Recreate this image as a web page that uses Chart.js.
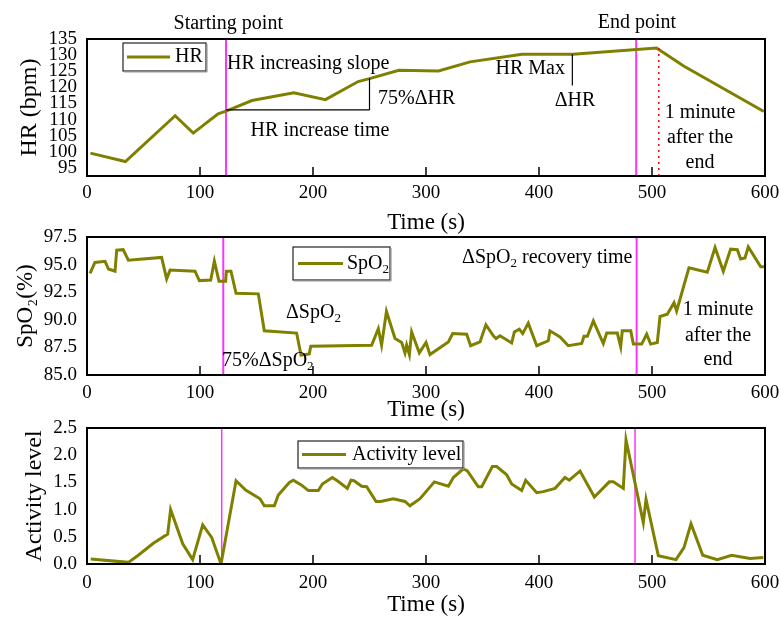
<!DOCTYPE html>
<html>
<head>
<meta charset="utf-8">
<script src="https://cdn.jsdelivr.net/npm/chart.js@4"></script>
<style>
  body { margin: 0; background: #fff; }
  #wrap { position: relative; width: 781px; height: 621px; }
  canvas { position: absolute; left: 0; }
</style>
</head>
<body>
<div id="wrap">
  <canvas id="hrChart" width="781" height="240" style="top:0px"></canvas>
  <canvas id="spo2Chart" width="781" height="197" style="top:228px"></canvas>
  <canvas id="actChart" width="781" height="206" style="top:415px"></canvas>
</div>
<script>
// x axis, shared
const timeTicks = [0, 100, 200, 300, 400, 500, 600];

// heart rate
const hrTime = [3, 34, 78, 94, 116, 123, 146, 183, 211, 240, 250, 276, 311, 339, 385, 430, 504, 528, 599];
const hrValues = [99.6, 97.0, 111.2, 105.8, 111.8, 112.6, 115.9, 118.3, 116.2, 121.8, 122.7, 125.3, 125.1, 127.9, 130.3, 130.3, 132.2, 126.6, 112.5];
const hrTicks = [95, 100, 105, 110, 115, 120, 125, 130, 135];

// SpO2
const spoTime = [2.7, 7, 16, 19, 24.8, 26.3, 32, 36.6, 66, 70.5, 73.5, 95.6, 99.4, 109.5, 112.7, 116.8, 122.7, 123.3, 127.4, 131.9,
  151.6, 156.9, 185.5, 189.4, 196.7, 198, 251.9, 257.8, 260.7, 265, 272.6, 278.5, 281.4, 282.9, 285.3, 287.3, 294.1, 300, 303.5, 319.8,
  323.6, 336, 339.5, 347.8, 353, 359.6, 362, 365.5, 375.8, 378.2, 382.6, 385.6, 390.5, 398, 408.2, 409.7, 418.6, 425.9, 437.8, 439.8,
  442.8, 448.1, 456.9, 459.9, 469.3, 472.3, 473.7, 481.2, 483.5, 490.9, 495.3, 498.8, 504.7, 507.1, 513.5, 519.5, 521.8, 532.7, 548.9, 555.8,
  563.1, 569.6, 575.5, 578.4, 582.3, 585.2, 596.2, 600];
const spoValues = [94.2, 95.2, 95.3, 94.6, 94.4, 96.3, 96.35, 95.4, 95.65, 93.7, 94.5, 94.4, 93.55, 93.6, 95.3, 93.5, 93.5, 94.4, 94.4, 92.4,
  92.35, 89.0, 88.8, 86.8, 86.9, 87.6, 87.7, 89.2, 87.7, 90.75, 88.3, 87.95, 87.0, 87.7, 86.85, 88.9, 87.0, 87.95, 86.85, 88.0,
  88.75, 88.7, 87.65, 88.0, 89.55, 88.55, 88.3, 88.55, 87.9, 88.9, 89.15, 88.75, 89.7, 87.65, 88.1, 89.0, 88.45, 87.65, 87.85, 88.5,
  88.5, 89.9, 87.85, 88.8, 88.8, 87.55, 89.0, 89.0, 87.8, 87.8, 88.7, 87.8, 87.95, 90.3, 90.5, 91.55, 90.8, 94.7, 94.3, 96.55,
  94.4, 96.4, 96.35, 95.5, 95.6, 96.6, 94.8, 94.8];
const spoTicks = [85, 87.5, 90, 92.5, 95, 97.5];

// activity level
const actTime = [3.3, 36.6, 45.4, 58.7, 71.4, 74, 84.7, 93.5, 102.4, 110.3, 118.6, 131.9, 140.4, 153.1, 156.9, 165.8, 169.3, 179.1, 182.6, 189.9,
  195.9, 204.7, 208.3, 217.1, 221.5, 230.4, 233.6, 236.3, 243.1, 247.5, 255.8, 259.9, 271, 281.4, 285.8, 294.7, 307.4, 319.8, 324.2, 333,
  336.6, 346.3, 349.3, 358.7, 362.6, 371.4, 375.8, 384.7, 388.2, 398, 403.8, 414.2, 423, 426.8, 436.3, 449, 462.2, 465.8, 474.6, 477,
  492.3, 494.7, 505.6, 521.2, 528.3, 534.5, 544.9, 557.8, 570.5, 586.7, 598.5];
const actValues = [0.09, 0.03, 0.16, 0.38, 0.55, 1.0, 0.37, 0.08, 0.72, 0.49, 0.0, 1.53, 1.36, 1.2, 1.07, 1.07, 1.27, 1.5, 1.54, 1.45,
  1.35, 1.35, 1.47, 1.59, 1.53, 1.39, 1.54, 1.53, 1.43, 1.42, 1.15, 1.15, 1.2, 1.15, 1.07, 1.2, 1.51, 1.43, 1.59, 1.75,
  1.71, 1.42, 1.42, 1.79, 1.79, 1.64, 1.47, 1.35, 1.54, 1.31, 1.33, 1.39, 1.59, 1.54, 1.71, 1.23, 1.51, 1.51, 1.39, 2.28,
  0.76, 1.19, 0.15, 0.08, 0.3, 0.74, 0.16, 0.08, 0.16, 0.1, 0.12];
const actTicks = [0, 0.5, 1, 1.5, 2, 2.5];

const serif = "'Liberation Serif', 'Times New Roman', serif";
const olive = '#808000';
const magenta = '#ff33ff';

// draws text, turning every "₂" into a small lowered 2
function richText(ctx, str, x, y, align, size) {
  const parts = str.split('₂');
  const sub = size * 0.65;
  let w = 0;
  parts.forEach((p, i) => {
    ctx.font = size + 'px ' + serif;
    w += ctx.measureText(p).width;
    if (i < parts.length - 1) { ctx.font = sub + 'px ' + serif; w += ctx.measureText('2').width; }
  });
  let cx = align === 'center' ? x - w / 2 : align === 'right' ? x - w : x;
  ctx.textAlign = 'left';
  ctx.textBaseline = 'middle';
  parts.forEach((p, i) => {
    ctx.font = size + 'px ' + serif;
    ctx.fillText(p, cx, y);
    cx += ctx.measureText(p).width;
    if (i < parts.length - 1) {
      ctx.font = sub + 'px ' + serif;
      ctx.fillText('2', cx, y + size * 0.28);
      cx += ctx.measureText('2').width;
    }
  });
}

function seg(ctx, x1, y1, x2, y2) {
  ctx.beginPath(); ctx.moveTo(x1, y1); ctx.lineTo(x2, y2); ctx.stroke();
}

const decor = {
  id: 'decor',
  beforeDatasetsDraw(chart, args, o) {
    const {ctx, chartArea: a, scales: {x}} = chart;
    ctx.save();
    ctx.strokeStyle = magenta;
    ctx.lineWidth = o.markerWidth;
    o.markers.forEach(v => { const px = x.getPixelForValue(v); seg(ctx, px, a.top, px, a.bottom); });
    ctx.restore();
  },
  afterDatasetsDraw(chart, args, o) {
    const {ctx, chartArea: a, scales: {x, y}} = chart;
    ctx.save();
    ctx.fillStyle = '#000';
    ctx.strokeStyle = '#000';
    ctx.lineWidth = 1.2;
    (o.lines || []).forEach(l => seg(ctx, x.getPixelForValue(l[0]), y.getPixelForValue(l[1]), x.getPixelForValue(l[2]), y.getPixelForValue(l[3])));
    if (o.dotted) {
      const d = o.dotted;
      ctx.strokeStyle = '#ff0000';
      ctx.lineWidth = 1.5;
      ctx.setLineDash([2, 4]);
      const px = x.getPixelForValue(d.x);
      seg(ctx, px, y.getPixelForValue(d.from), px, a.bottom);
      ctx.setLineDash([]);
    }
    (o.texts || []).forEach(t => richText(ctx, t.text, x.getPixelForValue(t.x), y.getPixelForValue(t.y), t.align || 'left', 20));
    // legend
    const L = o.legend;
    const bx = a.left + L.left, by = a.top + L.top;
    ctx.strokeStyle = '#222';
    ctx.lineWidth = 1.2;
    ctx.strokeRect(bx, by, L.w, L.h);
    ctx.strokeStyle = '#999';
    seg(ctx, bx + L.w + 1, by + 1, bx + L.w + 1, by + L.h + 1);
    seg(ctx, bx + 1, by + L.h + 1, bx + L.w + 1, by + L.h + 1);
    ctx.strokeStyle = olive;
    ctx.lineWidth = 3;
    seg(ctx, bx + L.s1, by + L.h / 2, bx + L.s2, by + L.h / 2);
    richText(ctx, L.text, bx + L.tx, by + L.h / 2, 'left', 20);
    // frame and inward ticks
    ctx.strokeStyle = '#000';
    ctx.lineWidth = 2;
    ctx.strokeRect(a.left, a.top, a.right - a.left, a.bottom - a.top);
    ctx.lineWidth = 1.5;
    timeTicks.forEach(v => { const px = x.getPixelForValue(v); seg(ctx, px, a.bottom, px, a.bottom - 9); });
    ctx.restore();
  }
};

function xScale(labelPad, titlePad, axisH) {
  return {
    type: 'linear', min: 0, max: 600,
    afterBuildTicks: s => { s.ticks = timeTicks.map(v => ({value: v})); },
    afterFit: s => { s.height = axisH; s.paddingLeft = 0; s.paddingRight = 0; },
    grid: {display: false, drawTicks: false},
    border: {display: false},
    ticks: {color: '#000', font: {family: serif, size: 19}, padding: labelPad, maxRotation: 0, autoSkip: false},
    title: {display: true, text: 'Time (s)', color: '#000', font: {family: serif, size: 23}, padding: {top: 0, bottom: titlePad}}
  };
}

function yScale(min, max, ticks, digits, title, titleSize, titlePad) {
  return {
    min: min, max: max,
    afterBuildTicks: s => { s.ticks = ticks.map(v => ({value: v})); },
    afterFit: s => { s.width = 87; s.paddingTop = 0; s.paddingBottom = 0; },
    grid: {display: false, drawTicks: false},
    border: {display: false},
    ticks: {color: '#000', font: {family: serif, size: 19}, padding: 10, autoSkip: false, callback: v => v.toFixed(digits)},
    title: {display: true, text: title, color: '#000', font: {family: serif, size: titleSize}, padding: {top: titlePad, bottom: 0}}
  };
}

function makeChart(id, times, values, label, padTop, xs, ys, decorOpts) {
  return new Chart(document.getElementById(id), {
    type: 'line',
    data: {
      datasets: [{
        label: label,
        data: times.map((t, i) => ({x: t, y: values[i]})),
        borderColor: olive,
        borderWidth: 3,
        pointRadius: 0,
        tension: 0,
        fill: false
      }]
    },
    options: {
      responsive: false,
      animation: false,
      devicePixelRatio: 1,
      layout: {padding: {top: padTop, right: 16, bottom: 0, left: 0}},
      scales: {x: xs, y: ys},
      plugins: {legend: {display: false}, tooltip: {enabled: false}, decor: decorOpts}
    },
    plugins: [decor]
  });
}

makeChart('hrChart', hrTime, hrValues, 'HR', 39,
  xScale(5.5, 3, 64),
  yScale(92.5, 135, hrTicks, 0, 'HR (bpm)', 24, 15.5),
  {
    markers: [123, 486], markerWidth: 2,
    lines: [[123, 113, 250, 113], [250, 113, 250, 122.8], [429.5, 130.3, 429.5, 120.6]],
    dotted: {x: 506, from: 132.2},
    texts: [
      {text: 'Starting point', x: 125, y: 139.7, align: 'center'},
      {text: 'End point', x: 486.7, y: 140, align: 'center'},
      {text: 'HR increasing slope', x: 124, y: 127.2},
      {text: '75%ΔHR', x: 257.5, y: 116.6},
      {text: 'HR increase time', x: 144.8, y: 106.6},
      {text: 'HR Max', x: 423, y: 125.9, align: 'right'},
      {text: 'ΔHR', x: 431.9, y: 115.9, align: 'center'},
      {text: '1 minute', x: 542.5, y: 112.2, align: 'center'},
      {text: 'after the', x: 542.5, y: 104.4, align: 'center'},
      {text: 'end', x: 542.5, y: 96.6, align: 'center'}
    ],
    legend: {left: 36, top: 4, w: 83, h: 28, s1: 4, s2: 47, tx: 52, text: 'HR'}
  });

makeChart('spo2Chart', spoTime, spoValues, 'SpO₂', 9,
  xScale(6.6, 1.2, 50),
  yScale(85, 97.5, spoTicks, 1, 'SpO₂(%)', 23, 12),
  {
    markers: [120.6, 486.4], markerWidth: 2,
    texts: [
      {text: 'ΔSpO₂', x: 176.1, y: 90.6},
      {text: '75%ΔSpO₂', x: 119.5, y: 86.3},
      {text: 'ΔSpO₂ recovery time', x: 331.9, y: 95.6},
      {text: '1 minute', x: 558.4, y: 90.9, align: 'center'},
      {text: 'after the', x: 558.4, y: 88.6, align: 'center'},
      {text: 'end', x: 558.4, y: 86.4, align: 'center'}
    ],
    legend: {left: 206, top: 10, w: 97, h: 33, s1: 5, s2: 50, tx: 54, text: 'SpO₂'}
  });

makeChart('actChart', actTime, actValues, 'Activity level', 13,
  xScale(7.6, 2.2, 57),
  yScale(0, 2.5, actTicks, 1, 'Activity level', 24, 20.5),
  {
    markers: [119.2, 485], markerWidth: 1.5,
    texts: [],
    legend: {left: 211, top: 13, w: 165, h: 27, s1: 4, s2: 48, tx: 54, text: 'Activity level'}
  });
</script>
</body>
</html>
